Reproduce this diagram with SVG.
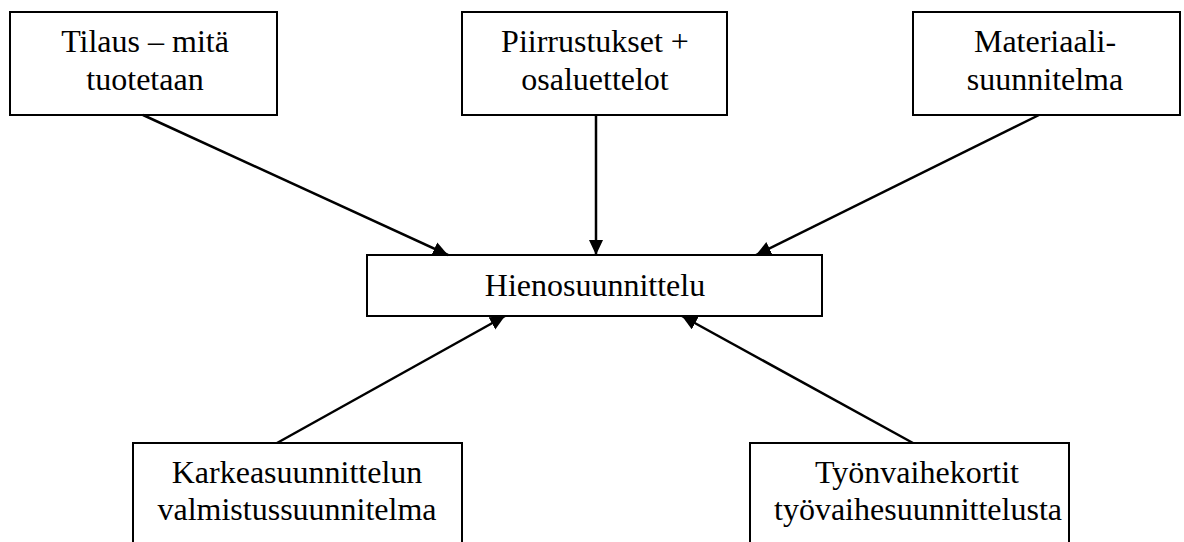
<svg xmlns="http://www.w3.org/2000/svg" width="1184" height="542" viewBox="0 0 1184 542">
<style>
.box{fill:#fff;stroke:#000;stroke-width:2}
.lbl{font-family:"Liberation Serif","Times New Roman",serif;font-size:32px;fill:#000;text-anchor:middle}
.conn{stroke:#000;stroke-width:2.5;fill:none}
</style>
<defs>
<marker id="ah" markerUnits="userSpaceOnUse" markerWidth="16" markerHeight="16" refX="15" refY="7" orient="auto">
<path d="M0,0 L15,7 L0,14 Z" fill="#000"/>
</marker>
</defs>
<rect width="1184" height="542" fill="#fff"/>
<g id="n1"><rect class="box" x="10" y="12" width="267" height="103"/><text class="lbl" x="145" y="52">Tilaus – mitä</text><text class="lbl" x="145" y="90">tuotetaan</text></g>
<g id="n2"><rect class="box" x="462" y="12" width="265" height="103"/><text class="lbl" x="595" y="52">Piirrustukset +</text><text class="lbl" x="595" y="90">osaluettelot</text></g>
<g id="n3"><rect class="box" x="913" y="12" width="267" height="103"/><text class="lbl" x="1045" y="52">Materiaali-</text><text class="lbl" x="1045" y="90">suunnitelma</text></g>
<g id="n4"><rect class="box" x="367" y="255" width="455" height="61"/><text class="lbl" x="595" y="296">Hienosuunnittelu</text></g>
<g id="n5"><rect class="box" x="133" y="443" width="329" height="120"/><text class="lbl" x="297" y="483">Karkeasuunnittelun</text><text class="lbl" x="297" y="520">valmistussuunnitelma</text></g>
<g id="n6"><rect class="box" x="750" y="443" width="319" height="120"/><text class="lbl" x="917" y="483">Työnvaihekortit</text><text class="lbl" x="918" y="520">työvaihesuunnittelusta</text></g>
<g id="connectors">
<line class="conn" x1="143" y1="115" x2="448" y2="255" marker-end="url(#ah)"/>
<line class="conn" x1="596" y1="115" x2="596" y2="255" marker-end="url(#ah)"/>
<line class="conn" x1="1039" y1="115" x2="756" y2="255" marker-end="url(#ah)"/>
<line class="conn" x1="277" y1="443" x2="505" y2="316" marker-end="url(#ah)"/>
<line class="conn" x1="913" y1="443" x2="682" y2="316" marker-end="url(#ah)"/>
</g>
</svg>
